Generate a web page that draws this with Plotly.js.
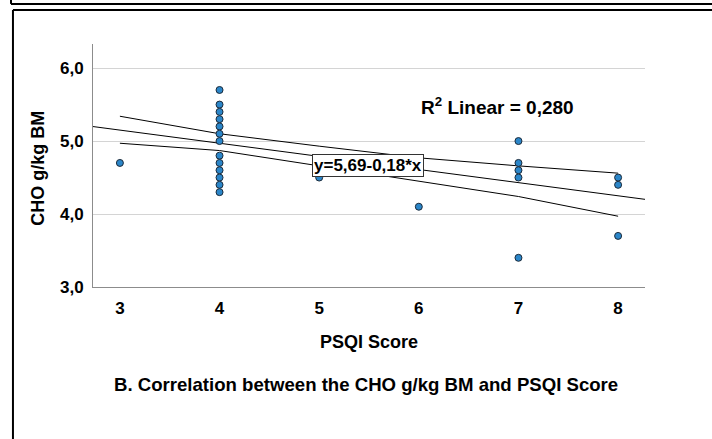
<!DOCTYPE html>
<html>
<head>
<meta charset="utf-8">
<script src="https://cdn.plot.ly/plotly-3.0.1.min.js"></script>
<style>
html,body{margin:0;padding:0;background:#fff;}
#chart{width:712px;height:439px;}
</style>
</head>
<body>
<div id="chart"></div>
<script>
// Data
const psqiScore = [3, 4,4,4,4,4,4,4,4,4,4,4,4,4, 5, 6, 7,7,7,7,7, 8,8,8];
const choGkgBM  = [4.7, 5.7,5.5,5.4,5.3,5.2,5.1,5.0,4.8,4.7,4.6,4.5,4.4,4.3, 4.5, 4.1, 5.0,4.7,4.6,4.5,3.4, 4.5,4.4,3.7];

// Fit line (from printed equation) and 95% CI band of the mean
const fitIntercept = 5.69;
const fitSlope = -0.18;
const rSquared = "0,280";
const ciX     = [3, 4, 5, 6, 7, 8];
const ciUpper = [5.34, 5.10, 4.93, 4.77, 4.66, 4.56];
const ciLower = [4.97, 4.87, 4.66, 4.45, 4.24, 3.97];

const xRange = [2.73, 8.27];
const yRange = [3.0, 6.33];
const xTicks = [3, 4, 5, 6, 7, 8];
const yTicks = [3, 4, 5, 6];
const yTickText = ["3,0", "4,0", "5,0", "6,0"];

const fitX = xRange.slice();
const fitY = fitX.map(x => fitIntercept + fitSlope * x);

const FONT = "Liberation Sans, Arial, sans-serif";

const traces = [
  {x: ciX, y: ciUpper, mode: "lines", type: "scatter", line: {color: "#000", width: 1}, hoverinfo: "skip", showlegend: false},
  {x: ciX, y: ciLower, mode: "lines", type: "scatter", line: {color: "#000", width: 1}, hoverinfo: "skip", showlegend: false},
  {x: fitX, y: fitY, mode: "lines", type: "scatter", line: {color: "#000", width: 1}, hoverinfo: "skip", showlegend: false},
  {x: psqiScore, y: choGkgBM, mode: "markers", type: "scatter", showlegend: false,
   marker: {size: 7, color: "#2b86c9", line: {color: "#1b2a3a", width: 1}}}
];

const layout = {
  width: 712, height: 439,
  margin: {l: 93, r: 67, t: 44, b: 152},
  paper_bgcolor: "#fff", plot_bgcolor: "#fff",
  font: {family: FONT, color: "#000"},
  showlegend: false,
  xaxis: {
    range: xRange, tickvals: xTicks, ticktext: xTicks.map(String),
    showgrid: false, zeroline: false, showline: true, linecolor: "#8c8c8c", linewidth: 1,
    ticks: "", ticklabelstandoff: 6,
    tickfont: {family: FONT, size: 17, color: "#000", weight: "bold"}
  },
  yaxis: {
    range: yRange, tickvals: yTicks, ticktext: yTickText,
    showgrid: true, gridcolor: "#d4d4d4", gridwidth: 1, zeroline: false,
    showline: true, linecolor: "#8c8c8c", linewidth: 1,
    ticks: "", ticklabelstandoff: 5,
    tickfont: {family: FONT, size: 17, color: "#000", weight: "bold"}
  },
  annotations: [
    {xref: "paper", yref: "paper", x: 0.5, y: -0.225, xanchor: "center", yanchor: "middle",
     text: "PSQI Score", showarrow: false, font: {family: FONT, size: 18, color: "#000", weight: "bold"}},
    {xref: "paper", yref: "paper", x: -0.10, y: 0.49, xanchor: "center", yanchor: "middle", textangle: -90,
     text: "CHO g/kg BM", showarrow: false, font: {family: FONT, size: 18, color: "#000", weight: "bold"}},
    {xref: "paper", yref: "paper", x: 0.495, y: -0.40, xanchor: "center", yanchor: "middle",
     text: "B. Correlation between the CHO g/kg BM and PSQI Score", showarrow: false,
     font: {family: FONT, size: 18.6, color: "#000", weight: "bold"}},
    {xref: "x", yref: "y", x: 6.79, y: 5.48, xanchor: "center", yanchor: "middle",
     text: "R<sup>2</sup> Linear = " + rSquared, showarrow: false,
     font: {family: FONT, size: 19, color: "#000", weight: "bold"}},
    {xref: "x", yref: "y", x: 5.49, y: 4.67, xanchor: "center", yanchor: "middle",
     text: "y=" + String(fitIntercept).replace(".", ",") + "-" + String(-fitSlope).replace(".", ",") + "*x",
     showarrow: false, bgcolor: "#fff", bordercolor: "#333", borderwidth: 1, borderpad: 1,
     font: {family: FONT, size: 17, color: "#000", weight: "bold"}}
  ],
  shapes: [
    {type: "line", xref: "paper", yref: "paper", x0: -0.1486, x1: 1.2, y0: 1.165, y1: 1.165, line: {color: "#000", width: 2}},
    {type: "line", xref: "paper", yref: "paper", x0: -0.1486, x1: -0.1486, y0: 1.165, y1: 1.25, line: {color: "#000", width: 2}},
    {type: "line", xref: "paper", yref: "paper", x0: -0.145, x1: 1.2, y0: 1.14, y1: 1.14, line: {color: "#000", width: 2}},
    {type: "line", xref: "paper", yref: "paper", x0: -0.145, x1: -0.145, y0: 1.14, y1: -0.7, line: {color: "#000", width: 2}}
  ]
};

Plotly.newPlot("chart", traces, layout, {displayModeBar: false, staticPlot: true});
</script>
</body>
</html>
